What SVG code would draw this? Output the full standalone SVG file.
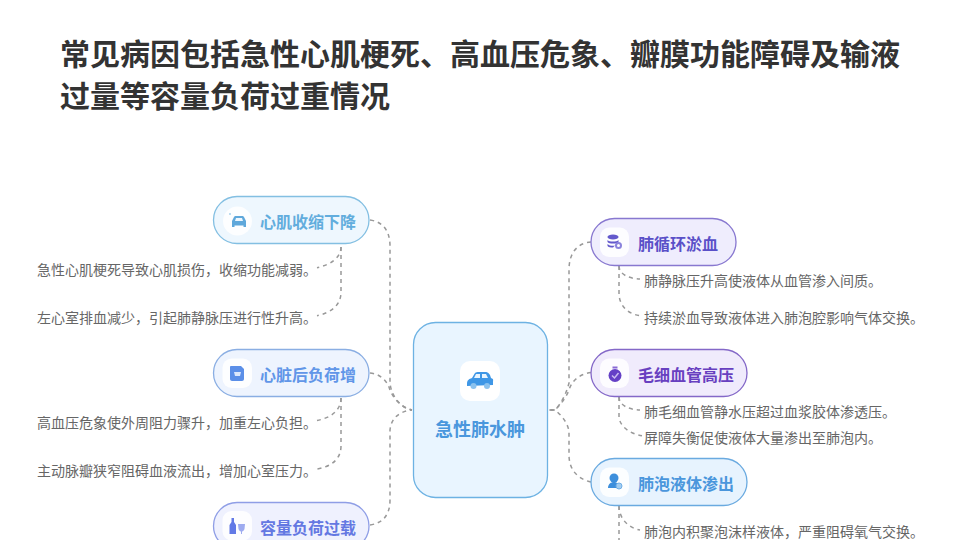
<svg xmlns="http://www.w3.org/2000/svg" width="960" height="540" viewBox="0 0 960 540">
<defs>
<style>
text{font-family:"Noto Sans CJK SC","Liberation Sans",sans-serif}
.title{font-size:30px;font-weight:700;fill:#333}
.lab{font-size:16px;font-weight:700}
.sub{font-size:14px;fill:#666}
.c{fill:none;stroke:#999;stroke-width:1.5;stroke-dasharray:4 4}
.n{stroke-width:1.3}
.w{fill:#fff;fill-opacity:.85}
</style>
</defs>
<rect width="960" height="540" fill="#fff"/>
<text class="title" x="60" y="65">常见病因包括急性心肌梗死、高血压危象、瓣膜功能障碍及输液</text>
<text class="title" x="60" y="107">过量等容量负荷过重情况</text>
<g id="connectors">
<path class="c" d="M370 220C384 222 390 232 390 246L390 383C391 395 400 408 412 410"/>
<path class="c" d="M370 373C380 374 386 380 389 387C392 398 402 408 412 410"/>
<path class="c" d="M370 525C383 523 390 515 390 500L390 430C391 418 400 411 412 410"/>
<path class="c" d="M341 247C341 258 330 265 317 267.700"/>
<path class="c" d="M341 247L341 292C341 306 330 313 317 315.700"/>
<path class="c" d="M341 398C341 411 330 418 317 420.500"/>
<path class="c" d="M341 398L341 446C341 460 330 467 317 469"/>
<path class="c" d="M341 551L341 540"/>
<path class="c" d="M591 242C578 243 569 252 569 270L569 383C566 395 560 405 555 410L548 410"/>
<path class="c" d="M591 372.500C580 374 572 380 569 390C566 398 560 405 555 410L548 410"/>
<path class="c" d="M591 482C578 479 569 470 569 455L569 432C568 422 560 414 555 410L548 410"/>
<path class="c" d="M619 266C619 274 628 278.500 640 279"/>
<path class="c" d="M619 266L619 293C619 306 628 314 640 315.700"/>
<path class="c" d="M619 397C619 405 628 409.500 640 410"/>
<path class="c" d="M619 397L619 416C619 426 630 434 642 435.700"/>
<path class="c" d="M619 506C619 518 628 528 640 530"/>
<path class="c" d="M619 506L619 540"/>
</g>
<g id="center">
<rect x="413.500" y="322.500" width="134" height="175" rx="22" fill="#e9f5ff" stroke="#6db2e3" stroke-width="1.300"/>
<rect x="460" y="361" width="40" height="40" rx="10" fill="#fff"/>
<path d="M467 384C467 380 469 379 472 378L475 373C476 372 477 372 479 372L485 372C487 372 488 372 490 375L491 378C494 379 493 380 493 383L493 385L467 386Z" fill="#3f97e6"/>
<path d="M476 374L480 374L480 378L474 378ZM482 374L486 374L488 378L482 378Z" fill="#e9f5ff"/>
<circle cx="473.500" cy="386" r="3" fill="#8cc2ee"/>
<circle cx="487" cy="386" r="3" fill="#8cc2ee"/>
<text x="435" y="436" font-size="18" font-weight="700" fill="#4a97dd">急性肺水肿</text>
</g>
<g id="n1">
<rect class="n" x="213.500" y="196.500" width="155.500" height="47" rx="23.500" fill="#eef7fe" stroke="#83bfe2"/>
<circle class="w" cx="237.500" cy="221" r="14.500"/>
<path d="M232 221L234 217C234.500 216 235 216 236 216L242 216C243 216 243.500 216 244 217L246 221L246 227L243.500 227L243.500 225.500L234.500 225.500L234.500 227L232 227Z" fill="#5fa8db"/>
<path d="M235 221L236 218L242 218L243 221Z" fill="#eef7fe"/>
<circle cx="230" cy="214" r="1" fill="#a9d2ec"/>
<text class="lab" x="260" y="228" fill="#62addd">心肌收缩下降</text>
</g>
<g id="n2">
<rect class="n" x="213.500" y="349.500" width="155.500" height="47" rx="23.500" fill="#eef4fe" stroke="#8aaee3"/>
<rect class="w" x="222.500" y="358.500" width="29.500" height="29.500" rx="9"/>
<path d="M231 366L241 366L244 369L244 379C244 380 243 381 242 381L232 381C231 381 230 380 230 379L230 367C230 366.500 230.500 366 231 366Z" fill="#5b8fe8"/>
<path d="M234 372L241 372L240 376L235 376Z" fill="#dce8fc"/>
<text class="lab" x="260" y="381" fill="#6196e8">心脏后负荷增</text>
</g>
<g id="n3">
<rect class="n" x="213.500" y="502.500" width="155.500" height="47" rx="23.500" fill="#eff1fe" stroke="#8f9ee6"/>
<rect class="w" x="222.500" y="511" width="29.500" height="29.500" rx="9"/>
<path d="M231.500 518L234 518L234 522L236 525L236 534L229.500 534L229.500 525L231.500 522Z" fill="#6279e6"/>
<path d="M238 524L245 524L244.500 529C244 531 242 531.500 242 531.500L242 534L241 534L241 531.500C241 531.500 239 531 238.500 529Z" fill="#9eabf0"/>
<text class="lab" x="260" y="534" fill="#6478e2">容量负荷过载</text>
</g>
<g id="n4">
<rect class="n" x="591" y="218.500" width="145" height="47" rx="23.500" fill="#efedfd" stroke="#8878d0"/>
<rect class="w" x="600" y="227.500" width="29" height="29.500" rx="9"/>
<ellipse cx="613" cy="237" rx="5.500" ry="2.500" fill="#6359cc"/>
<path d="M607.500 240C609 242 617 242 618.500 240L618.500 242C617 244 609 244 607.500 242ZM607.500 244C609 246 614 246 615 245.500L613 247.500C611 247.500 608 247 607.500 246Z" fill="#6359cc"/>
<circle cx="618.500" cy="245.500" r="2.500" fill="none" stroke="#8b83dc" stroke-width="2"/>
<text class="lab" x="638" y="250" fill="#5a50c8">肺循环淤血</text>
</g>
<g id="n5">
<rect class="n" x="591" y="349.500" width="156" height="47" rx="23.500" fill="#f0ebfc" stroke="#8468c8"/>
<rect class="w" x="600" y="358.500" width="29" height="29.500" rx="9"/>
<circle cx="615" cy="375.500" r="6.500" fill="#6540c6"/>
<rect x="612.500" y="366.500" width="5" height="2" fill="#8a6ad6"/>
<path d="M612 375.500L614.500 378L618.500 373" fill="none" stroke="#cbbcf0" stroke-width="1.500"/>
<text class="lab" x="638" y="381" fill="#6840c0">毛细血管高压</text>
</g>
<g id="n6">
<rect class="n" x="591" y="458.500" width="156" height="47" rx="23.500" fill="#e7f3fe" stroke="#6aaae0"/>
<rect class="w" x="600" y="467.500" width="29" height="29.500" rx="9"/>
<circle cx="614" cy="478" r="4.500" fill="#3d8fdc"/>
<path d="M608 488C608 484 611 482 614 482C617 482 619 484 619 488Z" fill="#3d8fdc"/>
<circle cx="619" cy="486" r="3" fill="#a3cdf0" stroke="#6eaee6"/>
<text class="lab" x="638" y="490" fill="#4a96dc">肺泡液体渗出</text>
</g>
<g id="s1"><text class="sub" x="37" y="275">急性心肌梗死导致心肌损伤&#xFF0C;收缩功能减弱。</text></g>
<g id="s2"><text class="sub" x="37" y="323">左心室排血减少&#xFF0C;引起肺静脉压进行性升高。</text></g>
<g id="s3"><text class="sub" x="37" y="428">高血压危象使外周阻力骤升&#xFF0C;加重左心负担。</text></g>
<g id="s4"><text class="sub" x="37" y="476">主动脉瓣狭窄阻碍血液流出&#xFF0C;增加心室压力。</text></g>
<g id="s5"><text class="sub" x="644" y="286">肺静脉压升高使液体从血管渗入间质。</text></g>
<g id="s6"><text class="sub" x="644" y="323">持续淤血导致液体进入肺泡腔影响气体交换。</text></g>
<g id="s7"><text class="sub" x="644" y="417">肺毛细血管静水压超过血浆胶体渗透压。</text></g>
<g id="s8"><text class="sub" x="644" y="443">屏障失衡促使液体大量渗出至肺泡内。</text></g>
<g id="s9"><text class="sub" x="644" y="537">肺泡内积聚泡沫样液体&#xFF0C;严重阻碍氧气交换。</text></g>
</svg>
